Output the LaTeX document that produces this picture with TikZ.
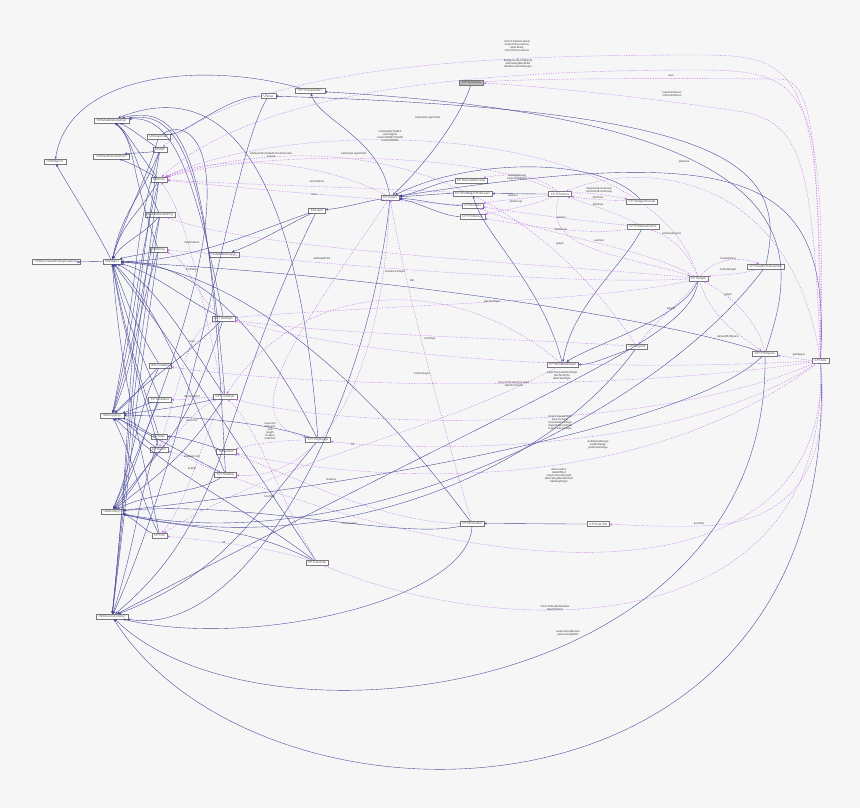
\documentclass[tikz,border=0pt]{standalone}
\usepackage{fontspec}
\setmainfont{Liberation Sans}
\usetikzlibrary{arrows.meta}
\definecolor{bgc}{RGB}{246,246,246}
\definecolor{inhc}{RGB}{72,72,155}
\definecolor{inhh}{RGB}{30,30,120}
\definecolor{usec}{RGB}{190,115,235}
\definecolor{useh}{RGB}{160,50,210}
\definecolor{boxc}{RGB}{120,120,120}
\tikzset{
  cls/.style={draw=boxc, fill=white, line width=0.35pt, font=\fontsize{3.1}{3.4}\selectfont,
    inner xsep=2.3pt, inner ysep=0.6pt, minimum height=5pt, text=black!70},
  hilite/.style={cls, fill=black!28},
  inh/.style={draw=inhc, line width=0.38pt, -{Stealth[length=2.6pt,width=2.2pt,fill=inhh]}},
  use/.style={draw=usec, line width=0.38pt, dash pattern=on 1.3pt off 1.3pt,
    -{Stealth[length=2.6pt,width=2.2pt,fill=useh]}},
  lbl/.style={font=\fontsize{2.8}{3.1}\selectfont, align=center, inner sep=0pt, text=black!75},
}
\begin{document}
\begin{tikzpicture}[x=1pt,y=-1pt]
\fill[bgc] (0,0) rectangle (860,808);
\useasboundingbox (0,0) rectangle (860,808);

% ---------------- nodes ----------------
\node[hilite] (gridlines) at (471.5,82.5) {CPTGridLines};
\node[cls] (cptresp) at (310,91) {<CPTResponder>};
\node[cls] (uiview) at (268.5,96) {UIView};
\node[cls] (nsmutcopy) at (111.5,120.5) {<NSMutableCopying>};
\node[cls] (uiresp) at (158.5,136.5) {UIResponder};
\node[cls] (nsset) at (160,149.5) {NSSet};
\node[cls] (nsobjproto) at (55,161.5) {<NSObject>};
\node[cls] (nsfastenum) at (111.5,156.5) {<NSFastEnumeration>};
\node[cls] (nsarray) at (159,179.5) {NSArray};
\node[cls] (nsattr) at (160,214.5) {NSAttributedString};
\node[cls] (nsstring) at (158.5,249.5) {NSString};
\node[cls] (camedia) at (224,254.5) {<CAMediaTiming>};
\node[cls] (nsobject) at (112,261.5) {NSObject};
\node[cls] (kvbc) at (56,262) {<NSKeyValueBindingCreation>};
\node[cls] (textstyle) at (223.5,318.5) {CPTTextStyle};
\node[cls] (nsformatter) at (160,365.5) {NSFormatter};
\node[cls] (linestyle) at (225,396.5) {CPTLineStyle};
\node[cls] (gradient) at (160,399.5) {CPTGradient};
\node[cls] (nscopying) at (112,415.5) {<NSCopying>};
\node[cls] (nsvalue) at (159,436.5) {NSValue};
\node[cls] (plotrange) at (318,440) {CPTPlotRange};
\node[cls] (cptcolor) at (159,449.5) {CPTColor};
\node[cls] (nsnumber) at (226.5,451.5) {NSNumber};
\node[cls] (shadow) at (225.5,474.5) {CPTShadow};
\node[cls] (nscoding) at (112,511.5) {<NSCoding>};
\node[cls] (fill) at (159.5,535.5) {CPTFill};
\node[cls] (linecap) at (317,562.5) {CPTLineCap};
\node[cls] (nssecure) at (112,616.5) {<NSSecureCoding>};
\node[cls] (calayer) at (317,210.5) {CALayer};
\node[cls] (cptlayer) at (390,197.5) {CPTLayer};
\node[cls] (axislabelgroup) at (471,180.5) {CPTAxisLabelGroup};
\node[cls] (annothost) at (472.5,193.5) {CPTAnnotationHostLayer};
\node[cls] (axisset) at (472.5,205.5) {CPTAxisSet};
\node[cls] (plotgroup) at (472.5,216.5) {CPTPlotGroup};
\node[cls] (plotarea) at (560,194) {CPTPlotArea};
\node[cls] (gridlinegroup) at (642,201.5) {CPTGridLineGroup};
\node[cls] (plotareaframe) at (643,226.5) {CPTPlotAreaFrame};
\node[cls] (graph) at (698.5,278.5) {CPTGraph};
\node[cls] (hostingview) at (765.5,266.5) {CPTGraphHostingView};
\node[cls] (legend) at (637,347) {CPTLegend};
\node[cls] (plotspace) at (765,353.5) {CPTPlotSpace};
\node[cls] (axis) at (820.5,360.5) {CPTAxis};
\node[cls] (bordered) at (562.5,364.5) {CPTBorderedLayer};
\node[cls] (axislabel) at (472,523.5) {CPTAxisLabel};
\node[cls] (axistitle) at (598.5,524) {CPTAxisTitle};

% ---------------- inheritance edges (navy) ----------------
\foreach \s/\t/\ax/\ay/\bx/\by in {
 nsset/nsmutcopy/-15/-10/15/5,
 nsarray/nsmutcopy/-20/-25/15/10,
 nsattr/nsmutcopy/-25/-50/20/15,
 nsstring/nsmutcopy/-30/-80/25/20,
 textstyle/nsmutcopy/-30/-150/60/-5,
 linestyle/nsmutcopy/-20/-230/70/-10,
 shadow/nsmutcopy/-15/-300/80/-20,
 nsset/nsfastenum/-10/3/15/-3,
 nsarray/nsfastenum/-15/-10/15/5,
 nsobject/nsobjproto/-20/-40/10/20,
 nsobject/kvbc/-10/0/10/0,
 uiresp/nsobject/-10/40/10/-40,
 nsset/nsobject/-20/50/10/-50,
 nsarray/nsobject/-20/35/10/-40,
 nsattr/nsobject/-15/20/10/-20,
 nsstring/nsobject/-15/5/15/-5,
 nsformatter/nsobject/-25/-40/15/40,
 gradient/nsobject/-25/-60/15/60,
 nsvalue/nsobject/-25/-80/15/80,
 cptcolor/nsobject/-25/-90/15/90,
 fill/nsobject/-25/-120/10/120,
 textstyle/nsobject/-40/-20/40/10,
 linestyle/nsobject/-40/-60/40/20,
 shadow/nsobject/-50/-120/40/40,
 plotrange/nsobject/-60/-120/80/0,
 linecap/nsobject/-100/-150/60/80,
 calayer/nsobject/-60/20/80/0,
 nsset/nscopying/-30/100/30/-150,
 nsarray/nscopying/-25/100/25/-100,
 nsattr/nscopying/-25/100/25/-80,
 nsstring/nscopying/-25/80/25/-60,
 nsformatter/nscopying/-20/20/25/-20,
 gradient/nscopying/-15/5/20/-5,
 nsvalue/nscopying/-15/-5/20/5,
 cptcolor/nscopying/-15/-10/20/10,
 fill/nscopying/-20/-40/20/40,
 textstyle/nscopying/-40/40/40/-40,
 linestyle/nscopying/-40/10/40/-5,
 shadow/nscopying/-40/-20/40/20,
 plotrange/nscopying/-60/-20/60/0,
 linecap/nscopying/-80/-60/60/60,
 nsformatter/nscoding/-25/50/25/-60,
 gradient/nscoding/-20/40/25/-40,
 cptcolor/nscoding/-15/20/20/-20,
 fill/nscoding/-15/-5/20/5,
 textstyle/nscoding/-40/120/60/-80,
 linestyle/nscoding/-40/60/50/-40,
 shadow/nscoding/-30/20/40/-20,
 linecap/nscoding/-80/-40/80/20,
 nsset/nssecure/-40/250/25/-250,
 nsarray/nssecure/-35/250/25/-250,
 nsattr/nssecure/-35/220/25/-220,
 nsstring/nssecure/-30/200/25/-200,
 nsvalue/nssecure/-25/80/25/-80,
 plotrange/nssecure/-80/100/100/-40,
 calayer/nssecure/-100/200/120/-100,
 nsnumber/nsvalue/-30/-10/20/0,
 uiview/uiresp/-40/0/30/-5,
 calayer/camedia/-40/20/30/-10,
 cptlayer/calayer/-30/5/30/-3,
 cptlayer/cptresp/-10/-60/10/30,
 axislabelgroup/cptlayer/-30/0/30/-5,
 annothost/cptlayer/-30/0/30/-2,
 axisset/cptlayer/-30/0/30/2,
 plotgroup/cptlayer/-30/0/30/5,
 plotarea/annothost/-30/0/30/0,
 gridlinegroup/cptlayer/-40/-45/80/-40,
 plotareaframe/bordered/-20/40/10/-60,
 graph/bordered/-15/40/30/-20,
 legend/bordered/-30/10/30/0,
 bordered/annothost/-20/-80/10/40,
 axistitle/axislabel/-40/0/40/0}
 {\draw[inh] (\s) .. controls +(\ax,\ay) and +(\bx,\by) .. (\t);}

% long navy routes
\draw[inh] (plotrange) .. controls (300,200) and (240,70) .. (nsmutcopy);
\draw[inh] (cptresp) .. controls (210,62) and (70,70) .. (nsobjproto);
\draw[inh] (gridlines) .. controls (460,120) and (420,170) .. (cptlayer);
\draw[inh] (hostingview) .. controls (790,160) and (720,110) .. (uiview);
\draw[inh] (plotspace) .. controls (800,250) and (820,120) .. (cptresp);
\draw[inh] (axis) .. controls (830,180) and (760,140) .. (cptlayer);
\draw[inh] (plotspace) .. controls (700,330) and (450,280) .. (nsobject);
\draw[inh] (plotspace) .. controls (700,420) and (400,480) .. (nscoding);
\draw[inh] (axislabel) .. controls (380,400) and (250,270) .. (nsobject);
\draw[inh] (axislabel) .. controls (400,540) and (250,500) .. (nscoding);
\draw[inh] (hostingview) .. controls (650,420) and (350,560) .. (nscoding);
\draw[inh] (graph) .. controls (690,340) and (560,380) .. (nssecure);
\draw[inh] (cptlayer) .. controls (370,400) and (250,640) .. (nssecure);
\draw[inh] (axis) .. controls (845,850) and (260,850) .. (nssecure);
\draw[inh] (plotspace) .. controls (770,700) and (260,760) .. (nssecure);
\draw[inh] (axislabel) .. controls (470,600) and (250,650) .. (nssecure);
\draw[inh] (uiresp) .. controls (200,110) and (260,180) .. (nscoding);
\draw[inh] (uiview) .. controls (230,160) and (200,420) .. (nssecure);
\draw[inh] (legend) .. controls (540,480) and (320,560) .. (nscoding);

% ---------------- usage edges (purple dashed) ----------------
\draw[use] (axis.north) .. controls (822,70) and (800,55) .. (700,55) .. controls (520,55) and (260,60) .. (nsset);
\draw[use] (axis.north) .. controls (826,90) and (810,70) .. (700,70) .. controls (500,70) and (260,85) .. (nsarray);
\draw[use] (gridlines) .. controls (530,79) and (600,78) .. (780,79) .. controls (815,80) and (818,150) .. (axis.north);
\draw[use] (axis.north) .. controls (812,150) and (800,118) .. (730,110) .. controls (650,98) and (540,86) .. (gridlines);
\draw[use] (axis) .. controls (790,170) and (640,160) .. (plotarea);
\draw[use] (plotarea) .. controls (530,198) and (500,200) .. (axisset);
\draw[use] (plotarea) .. controls (535,205) and (505,210) .. (plotgroup);
\draw[use] (plotarea) .. controls (540,175) and (510,172) .. (axislabelgroup);
\draw[use] (plotarea) .. controls (585,192) and (600,194) .. (gridlinegroup);
\draw[use] (gridlinegroup) .. controls (610,200) and (590,200) .. (plotarea);
\draw[use] (plotareaframe) .. controls (610,210) and (590,205) .. (plotarea);
\draw[use] (plotareaframe) .. controls (590,222) and (530,214) .. (axisset);
\draw[use] (plotareaframe) .. controls (590,236) and (530,226) .. (plotgroup);
\draw[use] (graph) .. controls (640,246) and (560,240) .. (axisset);
\draw[use] (plotarea) .. controls (540,250) and (620,254) .. (graph);
\draw[use] (graph) .. controls (685,245) and (665,235) .. (plotareaframe);
\draw[use] (graph) .. controls (715,258) and (740,256) .. (hostingview);
\draw[use] (hostingview) .. controls (740,275) and (715,275) .. (graph);
\draw[use] (graph) .. controls (685,300) and (655,320) .. (legend);
\draw[use] (graph) .. controls (712,320) and (740,335) .. (plotspace);
\draw[use] (plotspace) .. controls (758,320) and (730,295) .. (graph);
\draw[use] (axis) .. controls (805,360) and (795,358) .. (plotspace);
\draw[use] (axis) .. controls (830,460) and (800,524) .. (699,526) .. controls (660,527) and (630,525) .. (axistitle);
\draw[use] (axis) .. controls (650,370) and (420,368) .. (textstyle);
\draw[use] (axis) .. controls (650,388) and (350,392) .. (nsformatter);
\draw[use] (axis) .. controls (650,434) and (350,430) .. (linestyle);
\draw[use] (axis) .. controls (680,455) and (420,452) .. (plotrange);
\draw[use] (axis) .. controls (650,490) and (400,488) .. (nsnumber);
\draw[use] (axis) .. controls (830,560) and (600,612) .. (shadow);
\draw[use] (axis) .. controls (830,650) and (500,640) .. (linecap);
\draw[use] (graph) .. controls (550,286) and (300,260) .. (nsstring);
\draw[use] (graph) .. controls (550,264) and (250,250) .. (nsattr);
\draw[use] (cptlayer) .. controls (330,165) and (230,150) .. (nsarray);
\draw[use] (plotarea) .. controls (480,150) and (260,150) .. (nsarray);
\draw[use] (graph) .. controls (650,120) and (300,115) .. (nsarray);
\draw[use] (legend) .. controls (500,140) and (300,135) .. (nsarray);
\draw[use] (annothost) .. controls (380,188) and (250,185) .. (nsarray);
\draw[use] (axisset) .. controls (380,200) and (260,190) .. (nsarray);
\draw[use] (cptlayer) .. controls (380,420) and (300,480) .. (shadow);
\draw[use] (bordered) .. controls (450,270) and (300,280) .. (linestyle);
\draw[use] (bordered) .. controls (420,440) and (300,450) .. (fill);
\draw[use] (graph) .. controls (600,302) and (380,305) .. (textstyle);
\draw[use] (legend) .. controls (560,340) and (330,335) .. (textstyle);
\draw[use] (textstyle) .. controls (190,330) and (190,345) .. (cptcolor);
\draw[use] (textstyle) .. controls (190,290) and (190,260) .. (nsstring);
\draw[use] (linestyle) .. controls (190,410) and (185,430) .. (cptcolor);
\draw[use] (linestyle) .. controls (195,398) and (185,400) .. (gradient);
\draw[use] (linestyle) .. controls (200,440) and (190,500) .. (fill);
\draw[use] (linestyle) .. controls (200,300) and (190,220) .. (nsarray);
\draw[use] (shadow) .. controls (200,465) and (185,455) .. (cptcolor);
\draw[use] (linecap) .. controls (260,545) and (200,540) .. (fill);
\draw[use] (linecap) .. controls (280,500) and (260,430) .. (linestyle);
\draw[use] (plotrange) .. controls (280,440) and (250,445) .. (nsnumber);
\draw[use] (axislabel) .. controls (430,380) and (400,260) .. (cptlayer);
\draw[use] (axislabel) .. controls (380,523) and (280,470) .. (nsnumber);
\draw[use] (cptlayer) .. controls (300,330) and (230,420) .. (plotrange);

% ---------------- labels ----------------
\node[lbl] (l1) at (517,46) {minorTickAxisLabels\\majorTickLocations\\axisLabels\\minorTickLocations};
\node[lbl] (l2) at (518,64) {backgroundLimitBands\\alternatingBandFills\\labelExclusionRanges};
\node[lbl] (l3) at (671,75.5) {axis};
\node[lbl] (l4) at (672,94) {majorGridLines\\minorGridLines};
\node[lbl] (l5) at (684,162) {plotArea};
\node[lbl] (l6) at (513,195) {axisSet};
\node[lbl] (l7) at (516,202) {plotGroup};
\node[lbl] (l8) at (517,177.5) {axisTitleGroup\\axisLabelGroup};
\node[lbl] (l9) at (599,190.5) {majorGridLineGroup\\minorGridLineGroup};
\node[lbl] (l10) at (598,198) {plotArea};
\node[lbl] (l11) at (598,205) {plotArea};
\node[lbl] (l12) at (561,217) {axisSet};
\node[lbl] (l13) at (561,230) {plotGroup};
\node[lbl] (l14) at (599,240) {axisSet};
\node[lbl] (l15) at (560,244) {graph};
\node[lbl] (l16) at (672,234) {plotAreaFrame};
\node[lbl] (l17) at (728,258.5) {hostingView};
\node[lbl] (l18) at (728,269.5) {hostedGraph};
\node[lbl] (l19) at (671,309) {legend};
\node[lbl] (l20) at (728,337) {defaultPlotSpace};
\node[lbl] (l21) at (728,295) {graph};
\node[lbl] (l22) at (799,355) {plotSpace};
\node[lbl] (l23) at (699,523) {axisTitle};
\node[lbl] (l24) at (562,376) {majorTickLabelTextStyle\\titleTextStyle\\labelTextStyle};
\node[lbl] (l25) at (514,384) {minorTickLabelFormatter\\labelFormatter};
\node[lbl] (l26) at (560,423) {minorTickLineStyle\\axisLineStyle\\minorGridLineStyle\\majorGridLineStyle\\majorTickLineStyle};
\node[lbl] (l27) at (598,445) {visibleAxisRange\\visibleRange\\gridLinesRange};
\node[lbl] (l28) at (559,476) {titleLocation\\labelOffset\\majorIntervalLength\\alternatingBandAnchor\\labelingOrigin};
\node[lbl] (l29) at (555,608) {minorTickLabelShadow\\labelShadow};
\node[lbl] (l30) at (568,633) {axisLineCapBefore\\axisLineCapAfter};
\node[lbl] (l31) at (412,280) {title};
\node[lbl] (l32) at (322,258) {attributedTitle};
\node[lbl] (l33) at (271,155) {sublayersExcludedFromAutomatic\\Layout};
\node[lbl] (l34) at (354,154) {topDownLayerOrder};
\node[lbl] (l35) at (428,118) {topDownLayerOrder};
\node[lbl] (l36) at (390,136) {rowHeightsThatFit\\rowHeights\\columnWidthsThatFit\\columnWidths};
\node[lbl] (l37) at (317,181) {annotations};
\node[lbl] (l38) at (314,195) {axes};
\node[lbl] (l39) at (331,479) {shadow};
\node[lbl] (l40) at (395,272) {borderLineStyle};
\node[lbl] (l41) at (353,444) {fill};
\node[lbl] (l42) at (492,302) {titleTextStyle};
\node[lbl] (l43) at (430,339) {textStyle};
\node[lbl] (l44) at (192,341) {color};
\node[lbl] (l45) at (192,269) {fontName};
\node[lbl] (l46) at (192,420) {lineColor};
\node[lbl] (l47) at (192,396) {lineGradient};
\node[lbl] (l48) at (192,468) {lineFill};
\node[lbl] (l49) at (192,242) {dashPattern};
\node[lbl] (l50) at (192,456) {shadowColor};
\node[lbl] (l51) at (224,542) {fill};
\node[lbl] (l52) at (270,497) {lineStyle};
\node[lbl] (l53) at (270,431) {maxLimit\\minLimit\\end\\length\\location\\midPoint};
\node[lbl] (l54) at (422,374) {contentLayer};
\node[lbl] (l55) at (350,523) {tickLocation};
\end{tikzpicture}
\end{document}
